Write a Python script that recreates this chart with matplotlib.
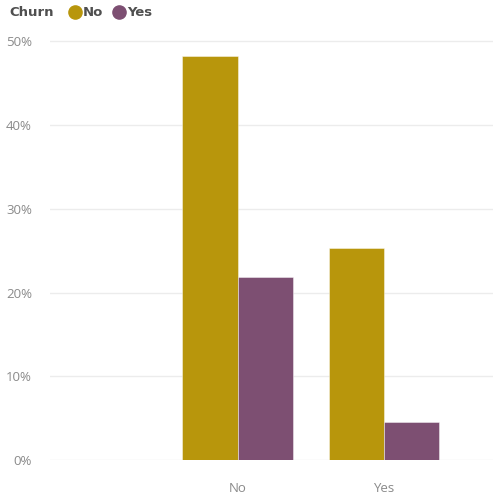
import numpy as np
import matplotlib
matplotlib.use("Agg")
import matplotlib.pyplot as plt
from matplotlib.lines import Line2D

plt.rcParams['font.family'] = ['Open Sans', 'DejaVu Sans']

# churn share (%) by category, split by churn flag
categories = ["No", "Yes"]
churn_no = [48.24, 25.30]
churn_yes = [21.85, 4.54]
series_names = ["No", "Yes"]
colors = ["#B8960C", "#7D4F72"]

fig = plt.figure(figsize=(4.93, 4.99), dpi=100)
ax = fig.add_axes([50 / 493, 39 / 499, 443 / 493, 427 / 499])

x = np.arange(1, len(categories) + 1)
w = 0.378
ax.bar(x - w / 2, churn_no, width=w, color=colors[0],
       edgecolor=(1, 1, 1, 0.5), linewidth=0.6, zorder=3)
ax.bar(x + w / 2, churn_yes, width=w, color=colors[1],
       edgecolor=(1, 1, 1, 0.5), linewidth=0.6, zorder=3)

ax.set_xlim(-0.283, 2.745)
ax.set_ylim(0, 51)
ax.set_yticks(np.arange(0, 51, 10))
ax.set_yticklabels([f"{v}%" for v in range(0, 51, 10)])
ax.set_xticks(x)
ax.set_xticklabels(categories)
ax.tick_params(axis='both', length=0, labelsize=9.5, colors="#8a8a8a")
ax.tick_params(axis='y', pad=13)
ax.tick_params(axis='x', pad=16)
ax.grid(axis='y', color="#ececec", linewidth=1, zorder=0)
for s in ax.spines.values():
    s.set_visible(False)

# legend row along the top
legend_font = dict(fontsize=9.5, fontweight='bold', color="#4f4f4f",
                   family='DejaVu Sans', va='center', ha='left')
fig.text(9 / 493, 1 - 12 / 499, "Churn", **legend_font)
for name, col, cx in zip(series_names, colors, [75, 119]):
    fig.add_artist(Line2D([cx / 493], [1 - 12 / 499], marker='o', markersize=9.5,
                          color=col, linestyle='none', transform=fig.transFigure))
    fig.text((cx + 8) / 493, 1 - 12 / 499, name, **legend_font)

fig.savefig("out.png", dpi=100)
